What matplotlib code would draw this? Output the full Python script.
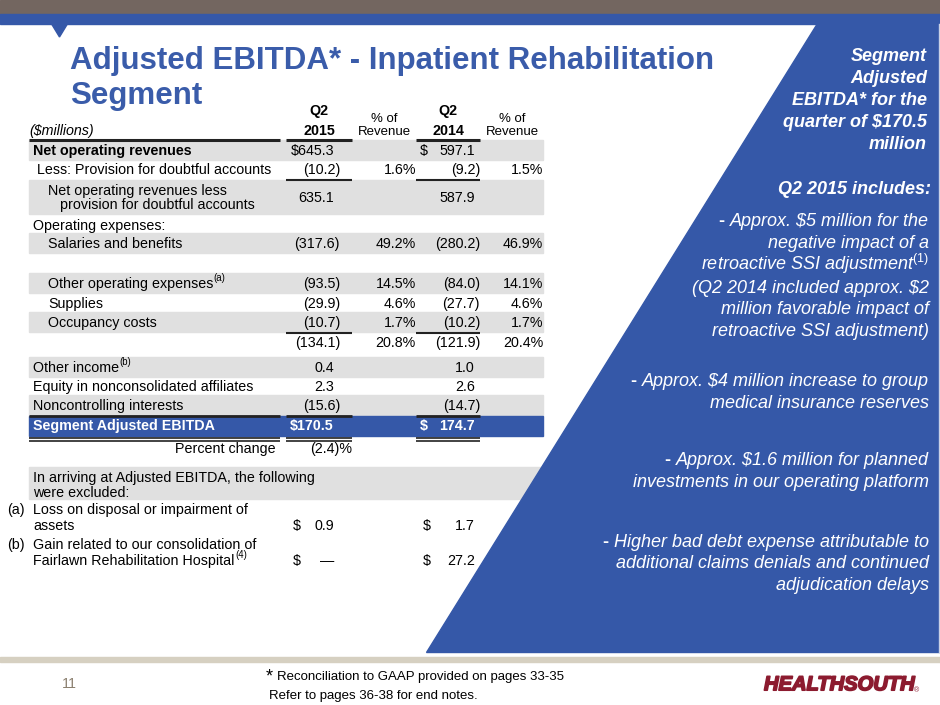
import matplotlib
matplotlib.use('Agg')
import matplotlib.pyplot as plt
from matplotlib.patches import Polygon, Rectangle
import matplotlib.patheffects as pe

plt.rcParams['font.family'] = ['Liberation Sans', 'DejaVu Sans']
plt.rcParams['mathtext.fontset'] = 'custom'
plt.rcParams['mathtext.rm'] = 'Liberation Sans'
plt.rcParams['mathtext.it'] = 'Liberation Sans:italic'
plt.rcParams['mathtext.bf'] = 'Liberation Sans:bold'

BLUE = '#3558a8'
TITLE_BLUE = '#3a5caa'
GREY = '#e0e0e0'
BROWN = '#736660'
TAN = '#d6d0c1'
LOGO_RED = '#8c1b2f'
FS = 10.25

# ---- data ----
title_lines = ['Adjusted EBITDA* - Inpatient Rehabilitation', 'Segment']

row_labels = ['Net operating revenues',
              'Less: Provision for doubtful accounts',
              'Net operating revenues less\n   provision for doubtful accounts',
              'Operating expenses:',
              'Salaries and benefits',
              '',
              'Other operating expenses',
              'Supplies',
              'Occupancy costs',
              '',
              'Other income',
              'Equity in nonconsolidated affiliates',
              'Noncontrolling interests',
              'Segment Adjusted EBITDA']
row_notes = [None, None, None, None, None, None, '(a)', None, None, None, '(b)', None, None, None]
q2_2015 = [645.3, -10.2, 635.1, None, -317.6, None, -93.5, -29.9, -10.7, -134.1, 0.4, 2.3, -15.6, 170.5]
pct_2015 = [None, 1.6, None, None, 49.2, None, 14.5, 4.6, 1.7, 20.8, None, None, None, None]
q2_2014 = [597.1, -9.2, 587.9, None, -280.2, None, -84.0, -27.7, -10.2, -121.9, 1.0, 2.6, -14.7, 174.7]
pct_2014 = [None, 1.5, None, None, 46.9, None, 14.1, 4.6, 1.7, 20.4, None, None, None, None]
pct_change = -2.4

excluded_note = ['In arriving at Adjusted EBITDA, the following', 'were excluded:']
excluded_tags = ['(a)', '(b)']
excluded_labels = [['Loss on disposal or impairment of', 'assets'],
                   ['Gain related to our consolidation of', 'Fairlawn Rehabilitation Hospital']]
excluded_notes = [None, '(4)']
excluded_2015 = [0.9, None]
excluded_2014 = [1.7, 27.2]

side_head = ['Segment', 'Adjusted', 'EBITDA* for the', 'quarter of \\$170.5', 'million']
side_sub = 'Q2 2015 includes:'
side_bullets = [['Approx. \\$5 million for the', 'negative impact of a',
                 'retroactive SSI adjustment$^{\\mathit{(1)}}$', '(Q2 2014 included approx. \\$2',
                 'million favorable impact of', 'retroactive SSI adjustment)'],
                ['Approx. \\$4 million increase to group', 'medical insurance reserves'],
                ['Approx. \\$1.6 million for planned', 'investments in our operating platform'],
                ['Higher bad debt expense attributable to', 'additional claims denials and continued',
                 'adjudication delays']]
footnotes = ['Reconciliation to GAAP provided on pages 33-35', 'Refer to pages 36-38 for end notes.']
page_no = '11'

# ---- layout ----
row_y = [150, 169, 197, 225, 243, 263, 283, 303, 322, 342, 367, 386, 405, 425]
row_x = [33, 37, 48, 33, 48, 48, 48, 48, 48, 48, 33, 33, 33, 33]
shaded = [0, 2, 4, 6, 8, 10, 12]
bullet_y = [[220, 242, 264, 287, 308, 330], [380, 402], [459, 481], [541, 562, 584]]

fig = plt.figure(figsize=(9.4, 7.05), dpi=100)
ax = fig.add_axes([0, 0, 1, 1])
ax.set_xlim(0, 940)
ax.set_ylim(705, 0)
ax.axis('off')
renderer = fig.canvas.get_renderer()


def txt(x, y, s, size=FS, **kw):
    # y is the visual middle of capitals
    return ax.text(x, y + 0.358 * size * 100 / 72, s, fontsize=size, va='baseline', **kw)


def txt_sup(x, y, s, sup, size=FS, **kw):
    t = txt(x, y, s, size, **kw)
    if sup:
        x1 = t.get_window_extent(renderer).x1
        txt(x1 + 0.5, y - 5, sup, size * 0.68, **kw)
    return t


def fmt(v):
    return '(%.1f)' % abs(v) if v < 0 else '%.1f' % v


# background pieces
ax.add_patch(Rectangle((0, 0), 940, 14, color=BROWN, zorder=1))
ax.add_patch(Rectangle((0, 14), 940, 9.5, color=BLUE, zorder=1))
ax.add_patch(Polygon([(51, 23), (68, 23), (59.5, 37)], color=BLUE, zorder=1))
ax.add_patch(Rectangle((0, 657), 940, 5, color=TAN, zorder=1))

for i in shaded:
    if i == 2:
        ax.add_patch(Rectangle((29, 180), 514, 34, color=GREY, zorder=1))
    else:
        ax.add_patch(Rectangle((29, row_y[i] - 10), 514, 19.5, color=GREY, zorder=1))
ax.add_patch(Rectangle((29, 467), 540, 32, color=GREY, zorder=1))
ax.add_patch(Rectangle((29, 416), 514, 19.5, color=BLUE, zorder=1))

# right-hand panel
ax.add_patch(Polygon([(817, 23), (940, 23), (940, 652), (426, 652)], color=BLUE, zorder=3))
ax.plot([938.5, 938.5], [24, 652], color='#c9d1e6', lw=1, zorder=4)

# title
txt(70, 58, title_lines[0], 22.5, color=TITLE_BLUE, fontweight='bold', zorder=5)
txt(70, 93, title_lines[1], 22.5, color=TITLE_BLUE, fontweight='bold', zorder=5)

# headers
txt(29, 130, '(\\$millions)', FS, fontstyle='italic')
for cx, yr in [(319, '2015'), (448, '2014')]:
    txt(cx, 110, 'Q2', FS, ha='center', fontweight='bold')
    txt(cx, 130, yr, FS, ha='center', fontweight='bold')
for cx in [384, 512]:
    txt(cx, 117, '% of', 9.5, ha='center')
    txt(cx, 130, 'Revenue', 9.5, ha='center')

cols = [(29, 280), (286, 352), (416, 480)]
for x0, x1 in cols:
    ax.plot([x0, x1], [139.5, 139.5], color='#222222', lw=2.2, solid_capstyle='butt')
    ax.plot([x0, x1], [415.5, 415.5], color='#222222', lw=2.0, solid_capstyle='butt')
    ax.plot([x0, x1], [437.5, 437.5], color='#222222', lw=1.2, solid_capstyle='butt')
    ax.plot([x0, x1], [440.5, 440.5], color='#222222', lw=1.2, solid_capstyle='butt')
for x0, x1 in cols[1:]:
    ax.plot([x0, x1], [179.5, 179.5], color='#222222', lw=1.5, solid_capstyle='butt')
    ax.plot([x0, x1], [332.5, 332.5], color='#222222', lw=1.5, solid_capstyle='butt')

# table body
last = len(row_labels) - 1
for i, lab in enumerate(row_labels):
    y = row_y[i]
    col = 'white' if i == last else 'black'
    w = 'bold' if i in (0, last) else 'normal'
    vw = 'bold' if i == last else 'normal'
    lines = lab.split('\n')
    if len(lines) == 2:
        txt(row_x[i], y - 7, lines[0], FS, color=col, fontweight=w)
        txt(row_x[i] + 12, y + 7, lines[1].strip(), FS, color=col, fontweight=w)
    elif lab:
        txt_sup(row_x[i], y, lab, row_notes[i], FS, color=col, fontweight=w)

    v = q2_2015[i]
    if v is not None:
        s = fmt(v)
        if i in (0, last):
            s = '\\$' + s
        txt(340 if v < 0 else 334, y, s, FS, ha='right', color=col, fontweight=vw)
    v = q2_2014[i]
    if v is not None:
        if i in (0, last):
            txt(420, y, '\\$', FS, color=col, fontweight=vw)
        txt(480 if v < 0 else 475, y, fmt(v), FS, ha='right', color=col, fontweight=vw)
    if pct_2015[i] is not None:
        txt(416, y, '%.1f%%' % pct_2015[i], FS, ha='right')
    if pct_2014[i] is not None:
        txt(543, y, '%.1f%%' % pct_2014[i], FS, ha='right')

txt(276, 448, 'Percent change', FS, ha='right')
txt(352, 448, fmt(pct_change) + '%', FS, ha='right')

# excluded items
txt(33, 477, excluded_note[0], FS)
txt(33, 492, excluded_note[1], FS)
for k, yk in enumerate([509, 544]):
    txt(7, yk, excluded_tags[k], FS)
    txt(33, yk, excluded_labels[k][0], FS)
    txt_sup(33, yk + 16, excluded_labels[k][1], excluded_notes[k], FS)
    txt(293, yk + 16, '\\$', FS)
    txt(423, yk + 16, '\\$', FS)
    v = excluded_2015[k]
    txt(334, yk + 16, '\u2014' if v is None else fmt(v), FS, ha='right')
    txt(475, yk + 16, fmt(excluded_2014[k]), FS, ha='right')

# side panel text
for s, y in zip(side_head, [55, 77, 99, 121, 143]):
    txt(927, y, s, 13, ha='right', color='white', fontweight='bold', fontstyle='italic', zorder=6)
txt(931, 188, side_sub, 13, ha='right', color='white', fontweight='bold', fontstyle='italic', zorder=6)

for lines, ys in zip(side_bullets, bullet_y):
    for j, (s, y) in enumerate(zip(lines, ys)):
        t = txt(929, y, s, 13, ha='right', color='white', fontstyle='italic', zorder=6)
        if j == 0:
            x0 = t.get_window_extent(renderer).x0
            txt(x0 - 6, y, '-', 13, ha='right', color='white', fontweight='bold', zorder=6)

# footer
txt(62, 683, page_no, FS, color='#8a7f6e')
ax.text(266, 681, '*', fontsize=13, color='black', va='baseline')
txt(277, 675, footnotes[0], 9.5)
txt(269, 694, footnotes[1], 9.5)
txt(764, 683, 'HEALTHSOUTH', 14.5, color=LOGO_RED, fontweight='bold', fontstyle='italic',
    path_effects=[pe.withStroke(linewidth=1.2, foreground=LOGO_RED)])
txt(914, 690, '\u00ae', 5, color=LOGO_RED)

fig.savefig('out.png', dpi=100)
